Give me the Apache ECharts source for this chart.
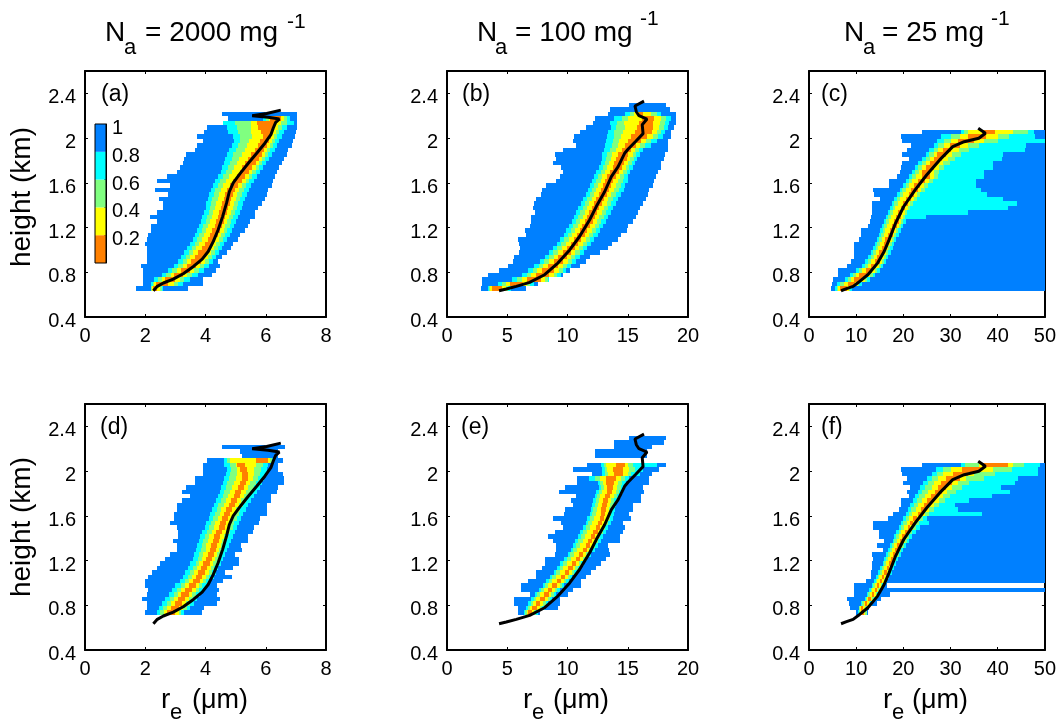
<!DOCTYPE html>
<html><head><meta charset="utf-8">
<style>html,body{margin:0;padding:0;background:#fff}#c{width:1059px;height:719px}</style>
<script src="https://cdn.jsdelivr.net/npm/echarts@6/dist/echarts.min.js"></script>
</head><body><div id="c"></div>
<script>
// Each row: [blueL, cyanL, greenL, yellowL, orangeL, orangeR, yellowR, greenR, cyanR, blueR]
// A two-value row is blue only; an empty row is blank. Row k spans rowBase+k*rowStep upward.
const rowBase = 0.635, rowStep = 0.04;
const colorLevels = ['#0080ff','#00ffff','#80ff80','#ffff00','#ff8000'];
const heightTicks = [0.4, 2.6, 0.4];
const rowsA = [
[1.68,2.18,2.2,2.22,2.25,2.40,2.5,2.55,2.6,3.41],[1.91,2.2,2.25,2.3,2.35,2.75,2.95,3.1,3.25,3.93],
[1.91,2.3,2.42,2.55,2.65,3.0,3.15,3.3,3.5,3.93],[1.91,2.55,2.7,2.85,2.95,3.25,3.4,3.55,3.75,4.2],
[1.91,2.75,2.9,3.05,3.18,3.48,3.62,3.78,3.95,4.35],[1.87,2.95,3.1,3.25,3.38,3.68,3.82,3.95,4.1,4.48],
[2.07,3.1,3.25,3.4,3.52,3.85,3.98,4.1,4.25,4.42],[2.07,3.2,3.35,3.5,3.65,3.95,4.08,4.2,4.35,4.55],
[2.07,3.3,3.45,3.6,3.75,4.05,4.18,4.3,4.45,4.7],[2.07,3.4,3.55,3.7,3.88,4.15,4.27,4.4,4.55,4.85],
[2.0,3.5,3.65,3.8,3.98,4.22,4.35,4.48,4.62,4.92],[2.07,3.58,3.72,3.88,4.08,4.32,4.45,4.57,4.72,5.09],
[2.1,3.65,3.8,3.95,4.15,4.4,4.52,4.65,4.8,5.15],[2.18,3.72,3.88,4.02,4.22,4.48,4.6,4.72,4.88,5.31],
[2.18,3.78,3.93,4.08,4.3,4.55,4.66,4.8,4.95,5.4],[2.38,3.85,4.0,4.15,4.35,4.6,4.72,4.85,5.02,5.48],
[2.16,3.9,4.05,4.2,4.42,4.65,4.78,4.92,5.08,5.64],[2.4,3.95,4.1,4.25,4.46,4.7,4.83,4.97,5.13,5.64],
[2.6,4.0,4.15,4.3,4.52,4.76,4.9,5.03,5.2,5.75],[2.6,4.03,4.18,4.35,4.56,4.8,4.94,5.08,5.25,5.86],
[2.47,4.08,4.22,4.4,4.62,4.85,5.0,5.15,5.32,5.97],[2.77,4.12,4.27,4.45,4.66,4.9,5.05,5.2,5.37,6.03],
[2.32,4.18,4.33,4.5,4.72,4.98,5.12,5.27,5.43,6.08],[2.82,4.25,4.4,4.58,4.8,5.08,5.22,5.36,5.52,6.2],
[2.4,4.32,4.48,4.67,4.92,5.2,5.33,5.46,5.62,6.25],[2.71,4.42,4.58,4.78,5.03,5.32,5.44,5.56,5.72,6.3],
[3.04,4.5,4.68,4.88,5.15,5.43,5.55,5.67,5.82,6.36],[3.15,4.55,4.74,4.95,5.22,5.55,5.66,5.77,5.92,6.45],
[3.24,4.6,4.8,5.03,5.32,5.67,5.78,5.88,6.02,6.53],[3.29,4.65,4.87,5.1,5.42,5.77,5.88,5.98,6.12,6.6],
[3.34,4.7,4.92,5.2,5.52,5.87,5.98,6.08,6.22,6.69],[3.65,4.78,5.0,5.3,5.65,5.95,6.05,6.15,6.3,6.75],
[3.71,4.88,5.08,5.38,5.75,6.03,6.13,6.23,6.37,6.86],[3.93,4.95,5.14,5.45,5.82,6.1,6.2,6.3,6.45,6.9],
[3.71,4.9,5.14,5.53,5.92,6.18,6.27,6.37,6.55,6.97],[3.95,4.75,5.08,5.5,5.85,6.22,6.33,6.45,6.62,7.0],
[4.04,4.7,5.03,5.5,5.75,6.28,6.42,6.55,6.72,7.05],[4.59,4.59,4.98,5.5,5.7,6.35,6.5,6.7,6.95,7.05],
[4.76,5.9,6.0,6.1,6.15,6.5,6.6,6.7,6.8,7.05],[4.56,7.05]];
const rowsB = [
[2.85,3.4,3.5,3.6,3.75,4.6,4.9,5.1,5.3,6.53],[2.9,4.2,4.6,4.9,5.2,6.3,6.6,6.9,7.2,7.55],
[2.93,5.4,5.8,6.2,6.6,7.8,8.1,8.4,8.45,8.5],[3.4,6.2,6.6,7.0,7.4,8.5,8.85,9.15,9.45,9.63],
[4.29,6.75,7.1,7.5,7.9,8.9,9.3,9.6,9.9,10.18],[5.06,7.25,7.6,8.0,8.4,9.25,9.6,9.95,10.3,11.0],
[5.48,7.7,8.05,8.45,8.85,9.6,10.0,10.35,10.7,11.56],[5.6,8.1,8.45,8.85,9.25,9.95,10.3,10.65,11.0,11.84],
[5.98,8.45,8.8,9.2,9.6,10.3,10.65,11,11.35,12.67],[6.03,8.8,9.15,9.55,9.95,10.6,10.95,11.3,11.65,13.36],
[6.0,9.1,9.45,9.85,10.25,10.9,11.25,11.6,11.95,13.7],[5.9,9.35,9.7,10.1,10.5,11.15,11.5,11.85,12.2,14.2],
[6.58,9.7,10.0,10.4,10.8,11.45,11.8,12.15,12.5,14.47],[6.5,9.9,10.25,10.6,11.0,11.65,12.0,12.35,12.7,14.9],
[6.86,10.1,10.45,10.85,11.2,11.85,12.25,12.6,12.95,15.0],[7.0,10.35,10.7,11.05,11.45,12.1,12.45,12.8,13.2,15.43],
[7.0,10.55,10.9,11.25,11.65,12.3,12.65,13.0,13.4,15.7],[7.33,10.7,11.05,11.45,11.8,12.45,12.85,13.2,13.6,15.85],
[7.14,10.9,11.25,11.6,12.0,12.65,13.05,13.4,13.8,16],[7.19,11.1,11.45,11.8,12.2,12.85,13.25,13.6,14.0,16.27],
[7.41,11.3,11.65,12.0,12.4,13.05,13.4,13.8,14.2,16.5],[7.83,11.5,11.85,12.2,12.6,13.25,13.6,14.0,14.4,16.7],
[7.88,11.7,12.05,12.4,12.8,13.45,13.85,14.25,14.65,16.76],[8.24,11.85,12.2,12.55,12.95,13.6,14.0,14.4,14.8,17.1],
[9.07,12.05,12.4,12.75,13.15,13.8,14.2,14.6,15.0,17.2],[9.35,12.2,12.55,12.9,13.3,14.0,14.35,14.7,15.05,17.37],
[9.63,12.4,12.75,13.1,13.5,14.25,14.6,14.9,15.15,17.5],[9.5,12.6,12.95,13.3,13.75,14.5,14.85,15.1,15.4,17.8],
[8.8,12.75,13.1,13.45,13.9,14.7,15.05,15.35,15.6,17.8],[9.07,12.85,13.2,13.6,14.05,14.9,15.2,15.5,15.8,18],
[8.93,12.9,13.3,13.7,14.2,15.0,15.4,15.7,16.0,18.06],[9.63,13.0,13.5,14.0,14.5,15.3,15.6,15.95,16.3,18.34],
[10.73,13.1,13.7,14.2,14.8,15.7,16.0,16.4,16.9,18.34],[10.46,13.2,13.8,14.3,15.0,16.1,16.5,16.9,17.4,18.34],
[10.5,13.3,13.9,14.4,15.3,16.6,17.1,17.5,17.9,18.6],[11.07,13.4,13.9,14.6,15.6,17.0,17.4,17.8,18.1,18.6],
[11.56,13.6,14.0,14.8,15.8,17.1,17.6,18.0,18.3,18.8],[12.1,13.5,14.1,14.7,15.9,17.1,17.7,18.1,18.4,19.03],
[12.3,13.9,14.5,15.0,16.2,17.2,17.8,18.2,18.6,19.03],[13.36,14.8,15.2,15.5,15.9,16.3,16.9,17.4,17.8,19.03],
[13.5,18.48],[15.1,18.2]];
const rowsC = [
[4.64,5.6,5.9,6.2,6.5,8,8.4,8.7,9.2,50],[4.85,6,6.5,7.5,8.2,9.8,10.3,10.7,11.2,50],
[5,7.7,8.3,8.9,9.5,11.2,11.8,12.3,12.9,50],[6.1,8.6,9.3,10,10.7,12.4,13,13.5,14,50],
[6.2,9.9,10.5,11.2,12,13.4,13.9,14.4,15,50],[8,11.2,11.8,12.5,13.1,14.3,14.8,15.2,15.7,50],
[9,11.9,12.5,13.1,13.9,15,15.4,15.8,16.3,50],[9.5,12.6,13.1,13.7,14.4,15.5,15.9,16.3,16.8,50],
[9.5,13.1,13.6,14.2,14.9,16,16.4,16.8,17.3,50],[9.5,13.6,14.1,14.6,15.4,16.4,16.8,17.2,17.7,50],
[9.5,14,14.5,15,15.8,16.8,17.2,17.6,18.1,50],[10.6,14.4,14.9,15.4,16.2,17.2,17.6,18,18.5,50],
[11.1,14.8,15.3,15.8,16.7,17.7,18.1,18.5,19,50],[11.1,15.1,15.6,16.1,17.1,18.1,18.5,18.9,19.5,50],
[12.6,15.5,16,16.5,17.6,18.6,19,19.4,20,50],[13,15.9,16.4,16.9,18.1,19.1,19.5,19.9,20.6,50],
[13.2,16.3,16.8,17.3,18.4,19.4,19.9,20.4,24.9,50],[13.4,16.7,17.2,17.8,18.8,19.8,20.3,20.8,33.6,50],
[13.4,17.1,17.7,18.3,19.4,20.4,20.9,21.4,42.2,50],[13.4,17.5,18.1,18.8,19.9,20.9,21.4,22,44,50],
[15.1,18,18.6,19.3,20.5,21.6,22.2,22.8,41.2,50],[13.8,18.6,19.2,19.9,21.1,22.3,22.9,23.6,37.7,50],
[13.5,19.2,19.8,20.5,21.7,23,23.7,24.5,36.4,50],[17,19.9,20.5,21.2,22.2,23.6,24.4,25.2,35.3,50],
[17,20.6,21.2,21.9,23,24.6,25.4,26.2,35.3,50],[18.7,21.2,21.8,22.6,24,25.6,26.4,27.3,37,50],
[19.3,21.8,22.5,23.3,24.0,25.6,26.6,27.6,37,50],[19.4,22.5,23.2,24,24.8,26.4,27.5,28.7,39.1,50],
[19.7,23.2,24,24.8,25.6,27.2,28.4,29.8,39.1,50],[21.1,24,24.8,25.7,26.5,28.2,29.4,31,40.9,50],
[19.7,24.7,25.4,26.4,27.2,29,30.4,32.2,41.2,50],[20.8,25.4,26.4,27.4,28.4,30.2,31.8,34,45.7,50],
[21.6,26.4,27.4,28.6,29.8,32,33.6,36,46,50],[19.7,27.2,28.6,30,31.5,35,37,40,50,50],
[19.5,28,30,32,33.8,37.6,40,42.5,48,50],[23.9,32.2,32.8,33.8,36.7,39.5,43.3,46.4,47.8,50]];
// panels d, e, f start two rows above the base
const firstRowLower = 2;
const rowsD = [
[1.99,2.38,2.5,2.62,2.72,3.0,3.12,3.2,3.3,3.9],[2.07,2.45,2.6,2.72,2.85,3.12,3.25,3.38,3.5,3.95],
[2.07,2.55,2.72,2.85,2.98,3.22,3.35,3.47,3.62,4.37],[1.88,2.65,2.82,2.97,3.1,3.33,3.45,3.57,3.72,4.48],
[2.05,2.78,2.95,3.08,3.2,3.45,3.56,3.68,3.83,4.37],[2.1,2.88,3.05,3.2,3.32,3.55,3.67,3.78,3.93,4.46],
[1.99,3.0,3.18,3.32,3.45,3.67,3.78,3.9,4.05,4.37],[1.99,3.15,3.32,3.46,3.6,3.82,3.92,4.03,4.18,4.59],
[2.1,3.25,3.42,3.55,3.68,3.9,4.0,4.12,4.27,4.87],[2.21,3.33,3.5,3.63,3.76,3.98,4.1,4.2,4.35,4.65],
[2.38,3.42,3.58,3.72,3.85,4.06,4.17,4.28,4.42,4.92],[2.49,3.5,3.67,3.8,3.93,4.15,4.26,4.37,4.5,5.12],
[2.65,3.58,3.75,3.88,4.02,4.22,4.33,4.45,4.58,5.12],[2.82,3.63,3.8,3.93,4.07,4.27,4.38,4.5,4.65,4.98],
[3.04,3.68,3.85,4.0,4.14,4.34,4.45,4.57,4.72,5.2],[3.04,3.72,3.88,4.03,4.18,4.38,4.5,4.62,4.78,5.17],
[2.91,3.78,3.93,4.08,4.24,4.44,4.56,4.68,4.84,5.42],[3.1,3.83,3.98,4.13,4.29,4.49,4.62,4.75,4.9,5.42],
[3.1,3.9,4.05,4.2,4.36,4.56,4.68,4.82,4.97,5.59],[3.04,3.98,4.13,4.28,4.44,4.64,4.77,4.9,5.05,5.61],
[2.82,4.03,4.18,4.33,4.49,4.69,4.82,4.95,5.1,5.79],[2.95,4.1,4.25,4.4,4.56,4.76,4.9,5.03,5.18,5.81],
[2.95,4.16,4.32,4.47,4.62,4.82,4.96,5.1,5.26,6.05],[3.04,4.22,4.37,4.53,4.69,4.89,5.02,5.16,5.34,6.05],
[3.04,4.28,4.43,4.6,4.77,4.97,5.1,5.25,5.42,6.03],[3.21,4.35,4.5,4.67,4.84,5.04,5.18,5.33,5.52,6.16],
[3.48,4.42,4.58,4.75,4.93,5.13,5.27,5.42,5.62,6.19],[3.21,4.47,4.63,4.8,4.99,5.19,5.33,5.5,5.7,6.36],
[3.35,4.52,4.68,4.87,5.07,5.27,5.42,5.6,5.8,6.42],[3.65,4.57,4.73,4.93,5.13,5.33,5.48,5.67,5.88,6.6],
[3.65,4.62,4.78,5.0,5.2,5.42,5.57,5.75,5.95,6.6],[3.93,4.67,4.82,5.03,5.2,5.42,5.62,5.82,6.02,6.58],
[3.93,4.7,4.85,5.03,5.15,5.38,5.62,5.85,6.05,6.42],[3.93,4.6,4.82,5.0,5.03,5.3,5.68,5.9,6.08,6.42],
[4.04,4.61,4.7,4.82,5.67,6.08,6.15,6.2,6.25,6.58],[5.2,6.42],[5.14,6.42],[4.56,6.64]];
const rowsE = [
[5.9,6.4,6.5,6.6,6.75,7.05,7.25,7.4,7.55,7.7],[5.9,6.55,6.7,6.85,7.05,7.45,7.7,7.9,8.1,9.2],
[5.6,6.75,6.95,7.1,7.35,7.75,8.0,8.2,8.4,9.35],[5.6,7.0,7.2,7.4,7.7,8.1,8.35,8.55,8.75,9.35],
[6.86,7.3,7.5,7.75,8.05,8.45,8.65,8.85,9.05,10.04],[6.17,7.6,7.8,8.05,8.35,8.7,8.95,9.15,9.35,10.46],
[6.17,7.95,8.15,8.4,8.75,9.1,9.35,9.55,9.75,11.15],[6.72,8.25,8.45,8.75,9.1,9.45,9.7,9.9,10.1,11.15],
[7.41,8.55,8.75,9.05,9.45,9.8,10.0,10.2,10.4,11.56],[7.41,8.85,9.05,9.35,9.78,10.12,10.35,10.55,10.75,11.98],
[7.9,9.15,9.35,9.65,10.08,10.42,10.65,10.85,11.05,12.34],[8.1,9.4,9.6,9.95,10.36,10.7,10.95,11.15,11.35,12.8],
[8.1,9.7,9.95,10.25,10.7,11.05,11.25,11.45,11.65,13.17],[8.93,10.0,10.2,10.55,10.97,11.3,11.5,11.7,11.95,13.5],
[9.07,10.25,10.45,10.8,11.25,11.6,11.8,12.0,12.25,13.45],[9.07,10.45,10.7,11.05,11.5,11.85,12.1,12.3,12.5,13.36],
[8.8,10.6,10.85,11.25,11.72,12.07,12.3,12.5,12.75,14.38],[8.38,10.85,11.1,11.45,11.95,12.3,12.5,12.7,12.95,14.33],
[8.93,11.05,11.3,11.65,12.15,12.5,12.7,12.95,13.2,14.6],[9.63,11.25,11.5,11.85,12.35,12.7,12.95,13.15,13.4,14.74],
[9.49,11.5,11.7,12.05,12.52,12.9,13.15,13.35,13.6,14.6],[8.8,11.65,11.9,12.2,12.7,13.07,13.3,13.5,13.75,15.3],
[9.68,11.85,12.05,12.35,12.75,13.15,13.4,13.6,13.85,15.1],[9.76,11.95,12.15,12.45,12.8,13.2,13.45,13.7,13.95,15.43],
[10.46,12.05,12.25,12.5,12.9,13.27,13.55,13.8,14.05,15.43],[10.3,12.15,12.35,12.6,12.98,13.35,13.65,13.9,14.2,16.13],
[10.73,12.25,12.45,12.7,13.15,13.55,13.85,14.1,14.4,16.13],[9.3,12.4,12.6,12.85,13.25,13.7,14.0,14.3,14.6,16.32],
[9.76,12.6,12.8,13.0,13.25,13.75,14.1,14.4,14.7,16.3],[10.79,12.5,12.7,12.95,13.2,13.85,14.2,14.5,14.85,16.8],
[10.79,11.8,12.3,12.7,13.2,14.0,14.4,14.8,15.1,16.8],[12.0,12.9,13.1,13.4,13.9,14.6,15.0,15.3,16.0,17.0],
[10.46,12.9,13.1,13.3,13.8,14.6,15.1,15.6,16.3,17.6],[11.6,12.8,13.0,13.2,14.0,14.8,15.0,15.4,17.4,18.15],
[],[12.3,16.6],[12.3,16.6],[13.9,17.0],[13.9,18.0],[15.1,18.2]];
const rowsF = [
[10,10.4,10.6,10.8,11,11.6,11.9,12.2,12.4,12.5],[8.7,10.5,10.7,10.9,11.0,11.5,11.9,12.2,12.5,12.8],
[8.5,11,11.3,11.6,11.9,12.4,12.7,13,13.4,14.5],[8,11.8,12.1,12.4,12.6,13.1,13.4,13.7,14.1,15.2],
[9.6,12.3,12.6,12.9,13.3,13.8,14.1,14.4,14.8,17.2],[9.6,12.8,13.1,13.4,13.9,14.4,14.7,15,15.4,50],
[9.6,13.3,13.6,13.9,14.4,14.9,15.2,15.5,15.9,16.6],[12.1,13.8,14.1,14.4,15,15.5,15.8,16.1,16.5,50],
[13.2,14.2,14.6,14.9,15.5,16,16.3,16.6,17,50],[13.2,14.7,15,15.4,16,16.5,16.8,17.1,17.5,50],
[13.4,15.1,15.5,15.9,16.5,17,17.3,17.6,18,50],[13.4,15.6,16,16.4,17,17.5,17.8,18.1,18.5,50],
[13.5,16,16.4,16.8,17.4,17.9,18.2,18.5,18.9,50],[13.3,16.3,16.7,17.1,17.8,18.3,18.6,19,19.4,50],
[15.6,16.7,17.1,17.6,18.2,18.8,19.1,19.5,20,50],[14.5,17.2,17.6,18.1,18.7,19.3,19.7,20.1,20.6,50],
[15.8,17.7,18.1,18.6,19.3,19.9,20.3,20.7,21.2,50],[14.9,18.1,18.5,19.1,19.8,20.4,20.8,21.3,21.8,50],
[14.9,18.5,19,19.6,20.3,20.9,21.4,21.9,22.6,50],[13.5,19,19.5,20.1,20.9,21.5,22,22.6,23.5,50],
[13.5,19.5,20,20.7,21.5,22.1,22.7,23.3,25.5,50],[16.8,20,20.6,21.3,22.1,22.9,23.5,24.2,25,50],
[17.9,20.5,21.1,21.9,23,23.8,24.5,25.4,36.6,50],[19,21,21.7,22.6,23.7,24.6,25.4,26.5,31.5,50],
[19.5,21.5,22.2,23.2,24.4,25.4,26.4,27.6,31,50],[19.5,22,22.8,23.9,25.1,26.3,27.5,28.8,33.9,50],
[21.1,22.5,23.4,24.6,25.9,27.1,28.3,29.9,38.8,50],[20.8,23,24,25.3,26.7,28.1,29.3,31.2,42.6,50],
[21.5,23.6,24.6,26,27.3,29,30.3,32.5,40.8,50],[20,24.2,25.2,26.6,28,30.4,31.5,34,43.6,50],
[20.8,25,26,27.4,29,32,33.3,37,44.3,50],[19.7,26,27.2,28.5,30.5,33.6,35,39.5,48.5,50],
[19.5,27,28.4,30,32.5,36.5,39,43,48.5,50],[23.9,32.2,33,36,36.7,42.2,43.3,45.6,49,50]];
const lineA = [[2.27,.635],[2.40,.674],[2.60,.704],[2.93,.739],[3.26,.787],[3.60,.852],[3.89,.918],[4.09,.986],[4.26,1.076],[4.42,1.18],[4.57,1.30],[4.70,1.42],[4.79,1.52],[4.92,1.60],[5.14,1.68],[5.42,1.775],[5.70,1.864],[5.97,1.954],[6.17,2.03],[6.25,2.09],[6.33,2.14],[6.45,2.17],[6.08,2.186],[5.55,2.20],[6.03,2.22],[6.50,2.25]];
const lineB = [[4.32,.635],[4.92,.65],[5.75,.674],[6.86,.71],[8.1,.778],[9.2,.882],[10.18,1.0],[11.0,1.12],[11.84,1.27],[12.4,1.39],[13.08,1.52],[13.64,1.656],[14.2,1.745],[14.74,1.864],[15.02,1.90],[15.65,1.97],[16.27,2.04],[16.2,2.12],[16.6,2.17],[15.93,2.2],[15.71,2.236],[15.6,2.287],[16.35,2.33]];
const lineC = [[6.79,.635],[7.96,.653],[9.35,.674],[10.73,.718],[12.47,.778],[14.54,.882],[15.93,.986],[16.97,1.09],[17.66,1.165],[18.35,1.24],[20.08,1.388],[22.5,1.537],[24.93,1.67],[27.7,1.805],[30.47,1.924],[32.9,1.968],[36.0,1.998],[37.4,2.043],[35.87,2.087]];
const panelLetters = ['(a)','(b)','(c)','(d)','(e)','(f)'];
const xMax = [8,20,50,8,20,50];
const xStep = [2,5,10,2,5,10];
const titleValues = ['2000','100','25'];

const FONT = '"Liberation Sans", Arial, sans-serif';
const bandOrder = [0,1,2,3,4,3,2,1,0];
const lefts = [85,447,809], tops = [71,404], W = 241, H = 246;
function cells(rows, first){
  const out = [];
  rows.forEach((r,i)=>{
    const y0 = rowBase + (i+first)*rowStep, y1 = y0 + rowStep;
    if(r.length===2) out.push([r[0],r[1],y0,y1,0]);
    else if(r.length===10) for(let b=0;b<9;b++) if(r[b+1]>r[b]) out.push([r[b],r[b+1],y0,y1,bandOrder[b]]);
  });
  return out;
}
function renderCell(params, api){
  const a = api.coord([api.value(0),api.value(2)]), b = api.coord([api.value(1),api.value(3)]);
  const x0 = Math.round(a[0]), x1 = Math.round(b[0]), y0 = Math.round(a[1]), y1 = Math.round(b[1]);
  return {type:'rect',shape:{x:x0,y:y1,width:x1-x0,height:y0-y1},style:{fill:colorLevels[api.value(4)]}};
}
const allRows = [rowsA,rowsB,rowsC,rowsD,rowsE,rowsF], allLines = [lineA,lineB,lineC,lineA,lineB,lineC];
const grid=[], xAxis=[], yAxis=[], series=[], graphic=[];
const line = {show:true,onZero:false,lineStyle:{color:'#000',width:2}};
const tick = {show:true,inside:true,length:3,lineStyle:{color:'#000',width:1}};
for(let i=0;i<6;i++){
  grid.push({left:lefts[i%3],top:tops[i<3?0:1],width:W,height:H});
  const xc = {gridIndex:i,type:'value',min:0,max:xMax[i],interval:xStep[i],splitLine:{show:false},axisLine:line,axisTick:tick};
  xAxis.push({...xc,position:'bottom',axisLabel:{color:'#000',fontSize:20,fontFamily:FONT,margin:9,showMaxLabel:true,showMinLabel:true}});
  xAxis.push({...xc,position:'top',axisLabel:{show:false}});
  const yc = {gridIndex:i,type:'value',min:heightTicks[0],max:heightTicks[1],interval:heightTicks[2],splitLine:{show:false},axisLine:line,axisTick:tick};
  yAxis.push({...yc,position:'left',axisLabel:{color:'#000',fontSize:20,fontFamily:FONT,margin:9,verticalAlign:'top',lineHeight:9,showMaxLabel:false,showMinLabel:true}});
  yAxis.push({...yc,position:'right',axisLabel:{show:false}});
  series.push({type:'custom',xAxisIndex:2*i,yAxisIndex:2*i,renderItem:renderCell,encode:{x:[0,1],y:[2,3]},data:cells(allRows[i],i<3?0:firstRowLower),silent:true,z:2});
  series.push({type:'line',xAxisIndex:2*i,yAxisIndex:2*i,data:allLines[i],showSymbol:false,silent:true,lineStyle:{color:'#000',width:3},z:4});
}
// colorbar inset in panel (a)
const barLevels = [[0,0.2,4],[0.2,0.4,3],[0.4,0.6,2],[0.6,0.8,1],[0.8,1,0]];
grid.push({left:95,top:124,width:11,height:139});
xAxis.push({gridIndex:6,type:'value',min:0,max:1,show:false});
yAxis.push({gridIndex:6,type:'value',min:0,max:1,interval:0.2,position:'right',splitLine:{show:false},
  axisLine:{show:true,onZero:false,lineStyle:{color:'#000',width:1}},axisTick:{show:true,inside:true,length:2,lineStyle:{color:'#000'}},
  axisLabel:{color:'#000',fontSize:20,fontFamily:FONT,margin:6,verticalAlign:'top',lineHeight:9,showMinLabel:false,showMaxLabel:true}});
series.push({type:'custom',xAxisIndex:12,yAxisIndex:12,renderItem:(p,api)=>{
  const a=api.coord([0,api.value(0)]),b=api.coord([1,api.value(1)]);
  return {type:'rect',shape:{x:a[0],y:b[1],width:b[0]-a[0],height:a[1]-b[1]},style:{fill:colorLevels[api.value(2)],stroke:'#000',lineWidth:0}};
},encode:{y:[0,1]},data:barLevels,silent:true,z:2});
graphic.push({type:'rect',silent:true,z:10,shape:{x:95,y:124,width:11,height:139},style:{fill:'none',stroke:'#000',lineWidth:1}});

// x,y is the text baseline start; glyph box top sits about 0.81em above the baseline
function txt(x,y,text,size,extra){
  const rot = (extra&&extra.rotation)||0;
  const up = 0.81*size;
  graphic.push({type:'text',x:rot?x-up:x,y:rot?y:y-up,z:10,silent:true,rotation:rot,
    style:{text,fontSize:size,fontFamily:FONT,fill:'#000',align:(extra&&extra.align)||'left',verticalAlign:'top'}});
}
// titles
[[105,124,145,287,29],[477,495,515,640,26],[844,863,882,991,26]].forEach((p,j)=>{
  txt(p[0],42,'N',28); txt(p[1],55,'a',22);
  txt(p[2],42,'= '+titleValues[j]+' mg',28); txt(p[3],p[4],'-1',21);
});
// x names
[[161,170,192],[523,532,553],[883,892,912]].forEach(p=>{
  txt(p[0],709,'r',28); txt(p[1],720,'e',22); txt(p[2],709,'(\u03bcm)',27);
});
// y names
[197,527].forEach(cy=>{ txt(31,cy,'height (km)',28,{rotation:Math.PI/2,align:'center'}); });
// panel letters
[[101,102],[462,102],[821,102],[100,435],[461,435],[821,435]].forEach((p,i)=>txt(p[0],p[1],panelLetters[i],23));

const chart = echarts.init(document.getElementById('c'),null,{renderer:'canvas',width:1059,height:719});
chart.setOption({animation:false,backgroundColor:'#fff',grid,xAxis,yAxis,series,graphic});
</script></body></html>
